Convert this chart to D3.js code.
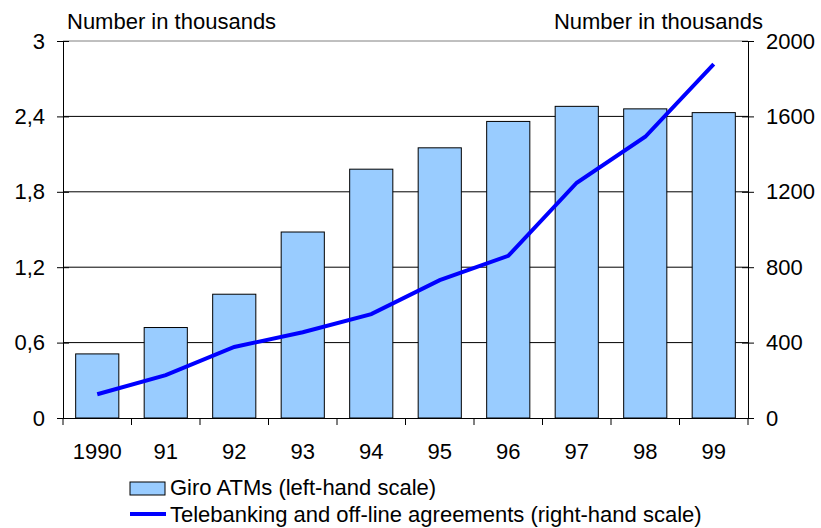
<!DOCTYPE html>
<html>
<head>
<meta charset="utf-8">
<script src="https://cdn.jsdelivr.net/npm/d3@7"></script>
<style>
  body { margin: 0; background: #fff; }
  text { font-family: "Liberation Sans", Arial, sans-serif; }
</style>
</head>
<body>
<svg id="chart" width="821" height="528"></svg>
<script>
// Data
const years = ["1990", "91", "92", "93", "94", "95", "96", "97", "98", "99"];
const giroATMs = [0.51, 0.72, 0.985, 1.48, 1.98, 2.15, 2.36, 2.48, 2.46, 2.43];
const telebanking = [126, 227, 377, 455, 551, 731, 860, 1248, 1492, 1877];
const leftTicks = [0, 0.6, 1.2, 1.8, 2.4, 3];
const rightTicks = [0, 400, 800, 1200, 1600, 2000];

const margin = { top: 41, left: 63, right: 73, bottom: 110 };
const width = 821 - margin.left - margin.right;
const height = 528 - margin.top - margin.bottom;
const fontSize = 22;

const svg = d3.select("#chart")
  .append("g")
  .attr("transform", `translate(${margin.left},${margin.top})`);

// Scales
const x = d3.scaleBand()
  .domain(years)
  .range([0, width])
  .paddingInner(0.37)
  .paddingOuter(0.185);

const yL = d3.scaleLinear().domain([0, 3]).range([height, 0]);
const yR = d3.scaleLinear().domain([0, 2000]).range([height, 0]);

const fmtL = d => String(d).replace(".", ",");
const fmtR = d => String(d);

// Gridlines
svg.append("g")
  .selectAll("line")
  .data(leftTicks.slice(1))
  .enter()
  .append("line")
  .attr("x1", 0)
  .attr("x2", width)
  .attr("y1", d => yL(d))
  .attr("y2", d => yL(d))
  .attr("stroke", d => d === 3 ? "#808080" : "#000")
  .attr("stroke-width", 1);

// Bars
svg.selectAll("rect.bar")
  .data(years)
  .enter()
  .append("rect")
  .attr("class", "bar")
  .attr("x", d => x(d))
  .attr("y", (d, i) => yL(giroATMs[i]))
  .attr("width", x.bandwidth())
  .attr("height", (d, i) => height - yL(giroATMs[i]))
  .attr("fill", "#99ccff")
  .attr("stroke", "#000")
  .attr("stroke-width", 1);

// Line
const line = d3.line()
  .x((d, i) => x(years[i]) + x.bandwidth() / 2)
  .y(d => yR(d));

svg.append("path")
  .datum(telebanking)
  .attr("fill", "none")
  .attr("stroke", "#0000ff")
  .attr("stroke-width", 4)
  .attr("d", line);

// Axes
const leftAxis = svg.append("g")
  .call(d3.axisLeft(yL).tickValues(leftTicks).tickFormat(fmtL).tickSizeInner(6).tickSizeOuter(0).tickPadding(12));
leftAxis.selectAll(".tick line").attr("x2", -6).attr("x1", 6);

const rightAxis = svg.append("g")
  .attr("transform", `translate(${width},0)`)
  .call(d3.axisRight(yR).tickValues(rightTicks).tickFormat(fmtR).tickSizeInner(6).tickSizeOuter(0).tickPadding(12));
rightAxis.selectAll(".tick line").attr("x1", -6);

const bottomAxis = svg.append("g")
  .attr("transform", `translate(0,${height})`)
  .call(d3.axisBottom(x).tickSize(0).tickPadding(25));

// Category separators below baseline
svg.append("g")
  .selectAll("line")
  .data(years.concat(["end"]))
  .enter()
  .append("line")
  .attr("x1", (d, i) => i * x.step())
  .attr("x2", (d, i) => i * x.step())
  .attr("y1", height)
  .attr("y2", height + 7)
  .attr("stroke", "#000");

[leftAxis, rightAxis, bottomAxis].forEach(g => {
  g.selectAll("text").attr("font-size", fontSize).attr("fill", "#000")
    .attr("font-family", "Liberation Sans, Arial, sans-serif");
  g.selectAll("path.domain").attr("stroke", "#000");
  g.selectAll(".tick line").attr("stroke", "#000");
});

// Axis titles
svg.append("text")
  .attr("x", 4)
  .attr("y", -12)
  .attr("font-size", fontSize)
  .text("Number in thousands");

svg.append("text")
  .attr("x", width + 15)
  .attr("y", -12)
  .attr("text-anchor", "end")
  .attr("font-size", fontSize)
  .text("Number in thousands");

// Legend
const legend = svg.append("g")
  .attr("transform", `translate(${130 - margin.left},${482 - margin.top})`);

legend.append("rect")
  .attr("x", 0).attr("y", 0)
  .attr("width", 35).attr("height", 13)
  .attr("fill", "#99ccff")
  .attr("stroke", "#000");

legend.append("text")
  .attr("x", 40).attr("y", 13)
  .attr("font-size", fontSize)
  .text("Giro ATMs (left-hand scale)");

legend.append("line")
  .attr("x1", 0).attr("x2", 36)
  .attr("y1", 32).attr("y2", 32)
  .attr("stroke", "#0000ff")
  .attr("stroke-width", 4);

legend.append("text")
  .attr("x", 40).attr("y", 40)
  .attr("font-size", fontSize)
  .text("Telebanking and off-line agreements (right-hand scale)");
</script>
</body>
</html>
